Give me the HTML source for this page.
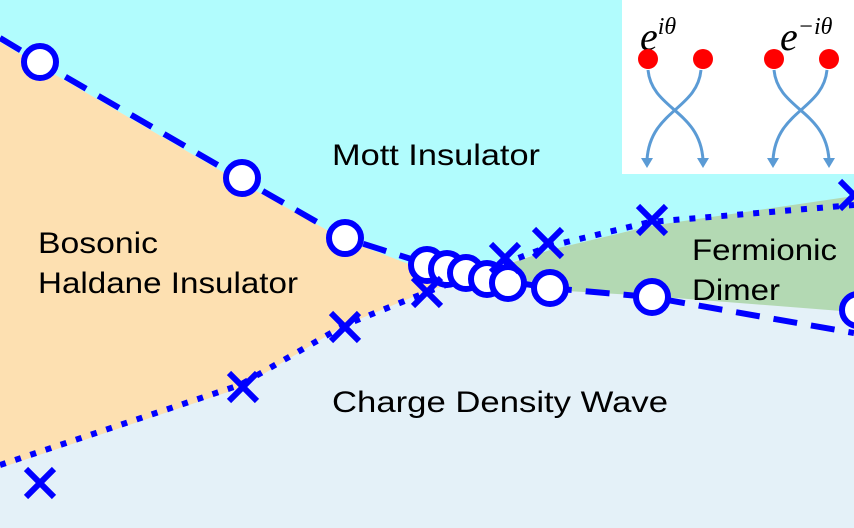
<!DOCTYPE html>
<html><head><style>body{margin:0}svg{display:block}</style></head><body>
<svg width="854" height="528" viewBox="0 0 854 528" xmlns="http://www.w3.org/2000/svg" font-family="Liberation Sans, sans-serif">
<rect width="854" height="528" fill="#e4f1f8"/>
<path d="M0,0 H854 V200 L650,226 L550,250 L490,268 L430,280 L345,240 L240,182 L40,66 L0,42 Z" fill="#b1fcfd"/>
<path d="M0,42 L40,66 L240,182 L345,240 L430,272 L480,276 L430,290 L345,325 L240,388 L0,468 Z" fill="#fde0b1"/>
<path d="M490,270 L550,250 L650,226 L854,196 V312 L650,296 L550,290 Z" fill="#b3d9b3"/>
<rect x="622" y="0" width="232" height="174" fill="#fff"/>
<text x="640" y="50" font-family="Liberation Serif, serif" font-style="italic" font-size="40">e<tspan font-size="24" dy="-16">iθ</tspan></text>
<text x="780" y="50" font-family="Liberation Serif, serif" font-style="italic" font-size="40">e<tspan font-size="24" dy="-16">−iθ</tspan></text>
<g fill="none" stroke="#5b9bd5" stroke-width="3">
<path d="M648,70 C652,110 700,110 703,160"/><path d="M701,70 C697,110 650,110 647,160"/>
<path d="M774,70 C778,110 826,110 829,160"/><path d="M827,70 C823,110 776,110 773,160"/>
</g>
<g fill="#5b9bd5"><path d="M641,158 L653,158 L647,168Z"/><path d="M697,158 L709,158 L703,168Z"/><path d="M767,158 L779,158 L773,168Z"/><path d="M823,158 L835,158 L829,168Z"/></g>
<g fill="#f00"><circle cx="648" cy="59" r="10"/><circle cx="703" cy="59" r="10"/><circle cx="774" cy="59" r="10"/><circle cx="829" cy="59" r="10"/></g>
<path d="M0,38 L40,62 L240,178 L345,238 L430,265 L500,280 L550,288 L650,297 L854,333" fill="none" stroke="#00f" stroke-width="6" stroke-dasharray="24,14"/>
<path d="M0,465 L240,385 L345,325 L427,292 L500,265 L550,246 L650,222 L854,205" fill="none" stroke="#00f" stroke-width="6" stroke-dasharray="6,10"/>
<g stroke="#00f" stroke-width="6" fill="#fff">
<circle cx="40" cy="62" r="16"/><circle cx="242" cy="178" r="16"/><circle cx="345" cy="238" r="16"/>
<circle cx="427" cy="265" r="16"/><circle cx="447" cy="269" r="16"/><circle cx="466" cy="273" r="16"/><circle cx="487" cy="279" r="16"/><circle cx="508" cy="283" r="16"/><circle cx="550" cy="288" r="16"/><circle cx="652" cy="297" r="16"/><circle cx="858" cy="310" r="16"/>
</g>
<g stroke="#00f" stroke-width="6" fill="none">
<path d="M26,469 L54,497 M54,469 L26,497"/><path d="M229,373 L257,401 M257,373 L229,401"/><path d="M331,313 L359,341 M359,313 L331,341"/><path d="M413,278 L441,306 M441,278 L413,306"/><path d="M491,244 L519,272 M519,244 L491,272"/><path d="M534,229 L562,257 M562,229 L534,257"/><path d="M638,206 L666,234 M666,206 L638,234"/><path d="M840,181 L868,209 M868,181 L840,209"/>
</g>
<g font-size="30" fill="#000">
<text x="332" y="165" textLength="208" lengthAdjust="spacingAndGlyphs">Mott  Insulator</text>
<text x="38" y="253" textLength="120" lengthAdjust="spacingAndGlyphs">Bosonic</text>
<text x="38" y="293" textLength="260" lengthAdjust="spacingAndGlyphs">Haldane Insulator</text>
<text x="332" y="412" textLength="336" lengthAdjust="spacingAndGlyphs">Charge  Density  Wave</text>
<text x="692" y="260" textLength="145" lengthAdjust="spacingAndGlyphs">Fermionic</text><text x="692" y="300" textLength="88" lengthAdjust="spacingAndGlyphs">Dimer</text>
</g>
</svg>
</body></html>
